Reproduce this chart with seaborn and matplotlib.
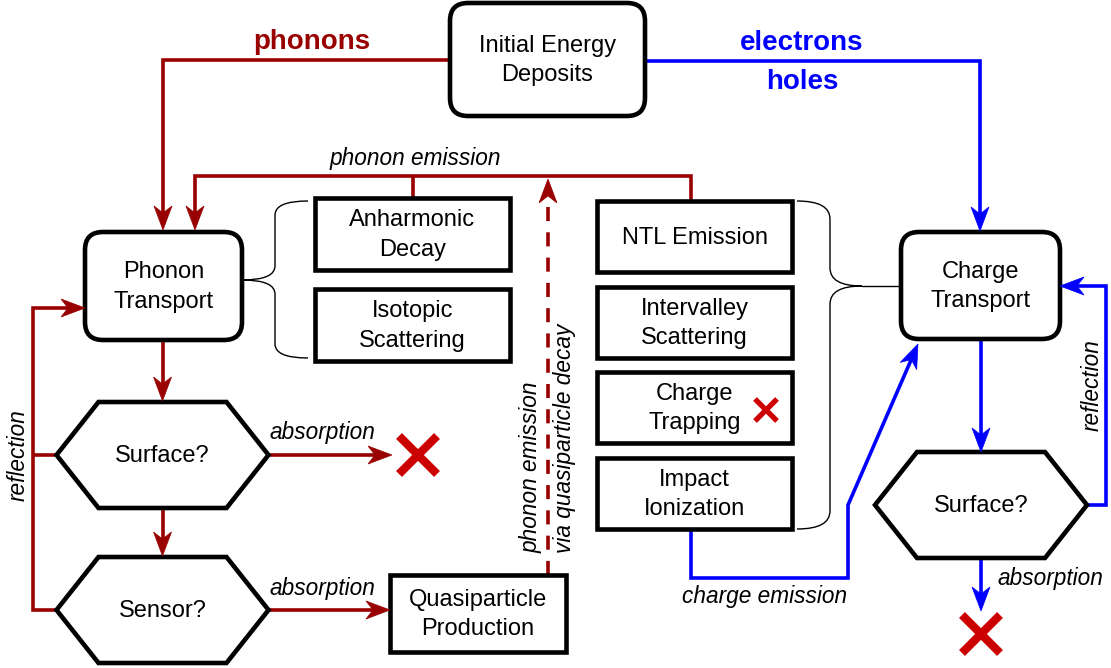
import numpy as np
import matplotlib
matplotlib.use("Agg")
import matplotlib.pyplot as plt
from matplotlib.patches import FancyBboxPatch, Polygon, Rectangle, PathPatch
from matplotlib.path import Path
import seaborn as sns

sns.set_theme(style="white")
plt.rcParams['font.family'] = ['Liberation Sans', 'DejaVu Sans']
plt.rcParams['text.color'] = 'black'

RED = '#990000'
BLUE = '#0000ff'
XRED = '#cc0000'

# text of the chart
source_label = 'Initial Energy\nDeposits'
carrier_labels = ['phonons', 'electrons', 'holes']
transport_labels = ['Phonon\nTransport', 'Charge\nTransport']
phonon_process_labels = ['Anharmonic\nDecay', 'Isotopic\nScattering']
charge_process_labels = ['NTL Emission', 'Intervalley\nScattering', 'Charge\nTrapping', 'Impact\nIonization']
decision_labels = ['Surface?', 'Sensor?', 'Surface?']
sensor_label = 'Quasiparticle\nProduction'
edge_labels = ['phonon emission', 'absorption', 'reflection', 'charge emission']
qp_labels = ['phonon emission', 'via quasiparticle decay']

fig = plt.figure(figsize=(11.11, 6.68), dpi=100)
ax = fig.add_axes([0, 0, 1, 1])
ax.set_xlim(0, 1111)
ax.set_ylim(668, 0)
ax.set_aspect('equal')
ax.axis('off')

BOX_FS = 17
LAB_FS = 16.3


def box(x0, y0, x1, y1, text, rounded=False, tx=None):
    if rounded:
        p = FancyBboxPatch((x0, y0), x1 - x0, y1 - y0, boxstyle='round,pad=0,rounding_size=18',
                           fc='white', ec='black', lw=3.3, zorder=3)
    else:
        p = Rectangle((x0, y0), x1 - x0, y1 - y0, fc='white', ec='black', lw=3.3,
                      zorder=3, joinstyle='miter')
    ax.add_patch(p)
    ax.text(tx if tx is not None else (x0 + x1) / 2, (y0 + y1) / 2 + 1, text, ha='center',
            va='center', fontsize=BOX_FS, linespacing=1.42, zorder=4)


def hexagon(cx, cy, text):
    w, inner, h = 106, 64, 53
    pts = [(cx - w, cy), (cx - inner, cy - h), (cx + inner, cy - h),
           (cx + w, cy), (cx + inner, cy + h), (cx - inner, cy + h)]
    ax.add_patch(Polygon(pts, closed=True, fc='white', ec='black', lw=3.3, zorder=3,
                         joinstyle='miter'))
    ax.text(cx, cy + 1, text, ha='center', va='center', fontsize=BOX_FS, zorder=4)


def head(tip, frm, color, L=24, W=9, notch=7):
    tip = np.array(tip, float)
    d = tip - np.array(frm, float)
    d /= np.hypot(*d)
    n = np.array([-d[1], d[0]])
    base = tip - d * L
    pts = [tip, base + n * W, tip - d * (L - notch), base - n * W]
    ax.add_patch(Polygon(pts, closed=True, fc=color, ec=color, lw=0.5, zorder=5))
    return tip - d * (L - notch - 1)


def wire(pts, color, arrow=True, ls='-'):
    pts = [np.array(p, float) for p in pts]
    if arrow:
        pts[-1] = head(pts[-1], pts[-2], color)
    xs = [p[0] for p in pts]
    ys = [p[1] for p in pts]
    ax.plot(xs, ys, color=color, lw=2.6, ls=ls, solid_joinstyle='miter',
            solid_capstyle='butt', dash_capstyle='butt', zorder=2)


def cross(cx, cy, r, lw, color=XRED):
    ax.plot([cx - r, cx + r], [cy - r, cy + r], color=color, lw=lw, solid_capstyle='butt', zorder=5)
    ax.plot([cx - r, cx + r], [cy + r, cy - r], color=color, lw=lw, solid_capstyle='butt', zorder=5)


def brace(x_tip, y_tip, x_mid, x_end, y_top, y_bot, r=18, x_stub=None):
    # curly brace: two ends at x_end, vertical spine at x_mid, point at x_tip
    verts = [(x_end, y_top), (x_mid, y_top), (x_mid, y_top + r),
             (x_mid, y_tip - r), (x_mid, y_tip), (x_tip, y_tip),
             (x_mid, y_tip), (x_mid, y_tip + r),
             (x_mid, y_bot - r), (x_mid, y_bot), (x_end, y_bot)]
    codes = [Path.MOVETO, Path.CURVE3, Path.CURVE3,
             Path.LINETO, Path.CURVE3, Path.CURVE3,
             Path.CURVE3, Path.CURVE3,
             Path.LINETO, Path.CURVE3, Path.CURVE3]
    ax.add_patch(PathPatch(Path(verts, codes), fc='none', ec='black', lw=1.0, zorder=2))
    if x_stub is not None:
        ax.plot([x_tip, x_stub], [y_tip, y_tip], color='black', lw=1.0, zorder=2)


# ---- boxes ----
box(450, 3, 645, 116, source_label, rounded=True)
box(85, 232, 242, 340, transport_labels[0], rounded=True)
box(901, 232, 1060, 339, transport_labels[1], rounded=True)
box(315, 198, 510, 270, phonon_process_labels[0])
box(315, 289, 510, 361, phonon_process_labels[1])
box(597, 201, 792, 272, charge_process_labels[0])
box(597, 287, 792, 358, charge_process_labels[1])
box(597, 372, 792, 443, charge_process_labels[2])
box(597, 458, 792, 529, charge_process_labels[3])
box(390, 575, 566, 652, sensor_label)

hexagon(162.5, 455, decision_labels[0])
hexagon(162.5, 610, decision_labels[1])
hexagon(981, 505, decision_labels[2])

# ---- phonon paths ----
wire([(450, 60), (163, 60), (163, 230)], RED)
wire([(691, 201), (691, 176), (195, 176), (195, 230)], RED)
wire([(413, 176), (413, 198)], RED, arrow=False)
wire([(162.5, 340), (162.5, 401)], RED)
wire([(162.5, 508), (162.5, 556)], RED)
wire([(268, 455), (392, 455)], RED)
wire([(268, 610), (390, 610)], RED)
wire([(57, 610), (33, 610), (33, 308), (85, 308)], RED)
wire([(57, 455), (33, 455)], RED, arrow=False)
wire([(548, 575), (548, 179)], RED, ls=(0, (3.9, 3.1)))

# ---- charge paths ----
wire([(645, 61), (980, 61), (980, 231)], BLUE)
wire([(981, 339), (981, 452)], BLUE)
wire([(981, 558), (981, 611)], BLUE)
wire([(1087, 505), (1106, 505), (1106, 286), (1060, 286)], BLUE)
wire([(691, 529), (691, 578), (848, 578), (848, 505), (918, 344)], BLUE)

# ---- braces ----
brace(242, 280, 275, 308, 201, 358, r=14)
brace(862, 286, 830, 797, 201, 529, r=18, x_stub=901)

# ---- crosses ----
cross(418, 455, 19, 6)
cross(981, 634, 19, 6)
cross(766, 410, 11, 3.8)

# ---- labels ----
ax.text(312, 42, carrier_labels[0], color=RED, fontsize=20, fontweight='bold', ha='center', va='center')
ax.text(802, 43, carrier_labels[1], color=BLUE, fontsize=20, fontweight='bold', ha='center', va='center')
ax.text(802, 82, carrier_labels[2], color=BLUE, fontsize=20, fontweight='bold', ha='center', va='center')
ax.text(415, 158, edge_labels[0], fontsize=LAB_FS, style='italic', ha='center', va='center')
ax.text(322, 432, edge_labels[1], fontsize=LAB_FS, style='italic', ha='center', va='center')
ax.text(322, 589, edge_labels[1], fontsize=LAB_FS, style='italic', ha='center', va='center')
ax.text(1050, 578, edge_labels[1], fontsize=LAB_FS, style='italic', ha='center', va='center')
ax.text(18, 455, edge_labels[2], fontsize=LAB_FS, style='italic', ha='center', va='center', rotation=90)
ax.text(1092, 385, edge_labels[2], fontsize=LAB_FS, style='italic', ha='center', va='center', rotation=90)
ax.text(765, 596, edge_labels[3], fontsize=LAB_FS, style='italic', ha='center', va='center')
ax.text(531, 553, qp_labels[0], fontsize=LAB_FS, style='italic', ha='center', va='bottom', rotation=90)
ax.text(564, 553, qp_labels[1], fontsize=LAB_FS, style='italic', ha='center', va='bottom', rotation=90)

fig.savefig('out.png', dpi=100, facecolor='white')
